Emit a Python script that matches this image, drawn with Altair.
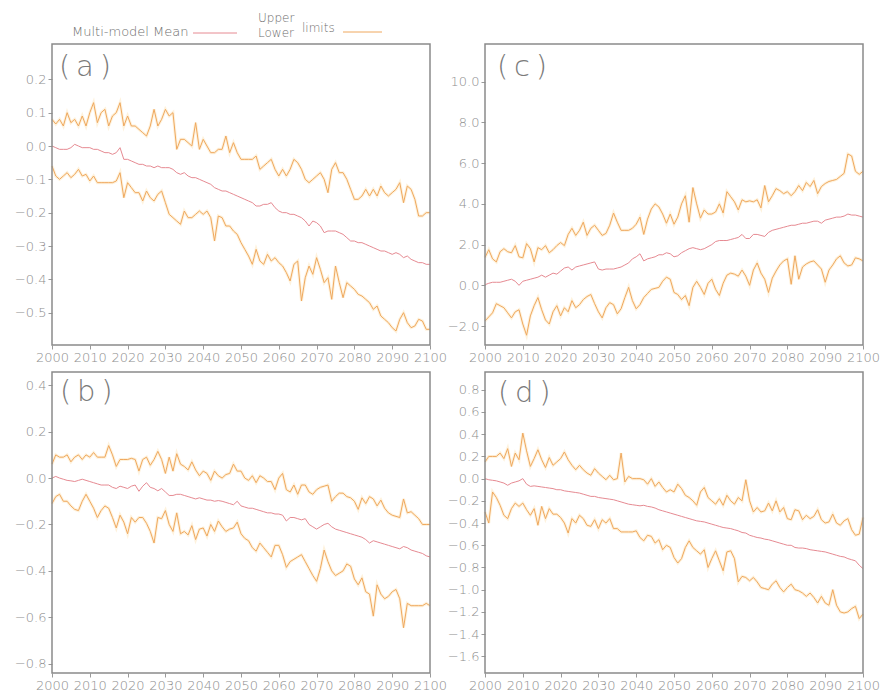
import altair as alt
import pandas as pd

years = list(range(2000, 2101))

a_upper = [0.08, 0.066, 0.08, 0.06, 0.10, 0.07, 0.08, 0.06, 0.09, 0.06,
           0.10, 0.13, 0.07, 0.10, 0.11, 0.06, 0.09, 0.10, 0.13, 0.06,
           0.09, 0.06, 0.06, 0.05, 0.04, 0.03, 0.06, 0.11, 0.06, 0.08,
           0.11, 0.09, 0.10, -0.01, 0.02, 0.02, 0.01, 0.0, 0.07, -0.01,
           0.02, 0.0, -0.02, -0.02, -0.01, -0.01, 0.03, -0.02, 0.01, -0.02,
           -0.04, -0.04, -0.04, -0.04, -0.03, -0.07, -0.06, -0.05, -0.04, -0.07,
           -0.09, -0.07, -0.09, -0.07, -0.04, -0.05, -0.07, -0.10, -0.11, -0.10,
           -0.09, -0.08, -0.10, -0.14, -0.07, -0.05, -0.08, -0.08, -0.10, -0.13,
           -0.16, -0.16, -0.15, -0.13, -0.15, -0.13, -0.15, -0.12, -0.14, -0.15,
           -0.14, -0.13, -0.11, -0.17, -0.12, -0.13, -0.16, -0.21, -0.21, -0.20,
           -0.20]
a_mean = [0.0, -0.005, -0.01, -0.01, -0.01, -0.005, 0.005, 0.0, -0.005, -0.005,
          -0.005, -0.01, -0.01, -0.015, -0.02, -0.02, -0.025, -0.02, -0.005, -0.04,
          -0.04, -0.045, -0.05, -0.055, -0.055, -0.06, -0.06, -0.065, -0.06, -0.065,
          -0.065, -0.065, -0.07, -0.08, -0.085, -0.08, -0.09, -0.095, -0.095, -0.10,
          -0.105, -0.11, -0.115, -0.125, -0.13, -0.135, -0.135, -0.14, -0.145, -0.15,
          -0.155, -0.16, -0.165, -0.17, -0.18, -0.18, -0.175, -0.175, -0.17, -0.185,
          -0.195, -0.20, -0.20, -0.205, -0.205, -0.21, -0.215, -0.225, -0.24, -0.225,
          -0.23, -0.24, -0.26, -0.255, -0.255, -0.255, -0.26, -0.265, -0.275, -0.285,
          -0.285, -0.29, -0.29, -0.295, -0.30, -0.305, -0.31, -0.315, -0.315, -0.32,
          -0.325, -0.32, -0.325, -0.335, -0.33, -0.34, -0.345, -0.35, -0.35, -0.355,
          -0.355]
a_lower = [-0.06, -0.09, -0.10, -0.09, -0.08, -0.095, -0.085, -0.07, -0.09, -0.085,
           -0.105, -0.09, -0.11, -0.11, -0.11, -0.11, -0.11, -0.105, -0.08, -0.155,
           -0.11, -0.125, -0.14, -0.14, -0.165, -0.135, -0.155, -0.165, -0.145, -0.135,
           -0.17, -0.205, -0.215, -0.225, -0.235, -0.195, -0.215, -0.215, -0.205, -0.195,
           -0.205, -0.195, -0.215, -0.285, -0.21, -0.215, -0.24, -0.24, -0.255, -0.265,
           -0.29, -0.31, -0.33, -0.355, -0.31, -0.345, -0.355, -0.325, -0.345, -0.335,
           -0.35, -0.36, -0.38, -0.405, -0.355, -0.345, -0.465, -0.395, -0.36, -0.385,
           -0.335, -0.37, -0.41, -0.395, -0.46, -0.36, -0.41, -0.455, -0.41, -0.42,
           -0.43, -0.445, -0.45, -0.46, -0.47, -0.49, -0.48, -0.51, -0.52, -0.53,
           -0.545, -0.555, -0.52, -0.50, -0.53, -0.545, -0.54, -0.52, -0.525, -0.55,
           -0.55]

b_upper = [0.06, 0.10, 0.09, 0.09, 0.10, 0.07, 0.09, 0.10, 0.08, 0.10,
           0.09, 0.11, 0.09, 0.09, 0.09, 0.14, 0.10, 0.05, 0.08, 0.08,
           0.08, 0.085, 0.08, 0.03, 0.08, 0.09, 0.055, 0.08, 0.115, 0.08,
           0.02, 0.09, 0.03, 0.105, 0.06, 0.05, 0.035, 0.07, 0.035, 0.01,
           0.03, 0.02, -0.01, 0.03, 0.01, 0.0, 0.015, 0.02, 0.06, 0.03,
           0.03, 0.0, -0.01, 0.01, -0.02, 0.01, 0.0, -0.015, -0.015, -0.05,
           0.0, 0.02, -0.05, -0.06, -0.03, -0.07, -0.03, -0.03, -0.06, -0.07,
           -0.05, -0.04, -0.035, -0.03, -0.10, -0.08, -0.065, -0.065, -0.08, -0.085,
           -0.10, -0.135, -0.085, -0.11, -0.08, -0.09, -0.12, -0.095, -0.13, -0.15,
           -0.16, -0.165, -0.17, -0.09, -0.15, -0.145, -0.16, -0.175, -0.20, -0.20,
           -0.20]
b_mean = [0.0, 0.007, 0.0, -0.005, -0.01, -0.012, -0.015, -0.01, -0.005, -0.01,
          -0.015, -0.02, -0.025, -0.03, -0.03, -0.03, -0.04, -0.045, -0.035, -0.04,
          -0.045, -0.035, -0.03, -0.057, -0.035, -0.02, -0.04, -0.045, -0.055, -0.045,
          -0.06, -0.075, -0.075, -0.07, -0.07, -0.075, -0.08, -0.085, -0.09, -0.085,
          -0.09, -0.095, -0.095, -0.10, -0.097, -0.10, -0.105, -0.11, -0.115, -0.10,
          -0.12, -0.125, -0.13, -0.13, -0.135, -0.14, -0.145, -0.15, -0.15, -0.155,
          -0.155, -0.16, -0.185, -0.17, -0.17, -0.175, -0.18, -0.175, -0.20, -0.21,
          -0.22, -0.21, -0.20, -0.195, -0.21, -0.22, -0.225, -0.23, -0.235, -0.24,
          -0.245, -0.25, -0.255, -0.265, -0.28, -0.27, -0.275, -0.28, -0.285, -0.29,
          -0.295, -0.30, -0.305, -0.295, -0.30, -0.31, -0.315, -0.32, -0.325, -0.335,
          -0.34]
b_lower = [-0.11, -0.08, -0.07, -0.10, -0.10, -0.12, -0.135, -0.14, -0.10, -0.07,
           -0.10, -0.13, -0.17, -0.14, -0.12, -0.13, -0.17, -0.215, -0.16, -0.19,
           -0.24, -0.17, -0.19, -0.17, -0.17, -0.195, -0.23, -0.28, -0.17, -0.175,
           -0.14, -0.20, -0.23, -0.15, -0.24, -0.23, -0.245, -0.205, -0.265, -0.22,
           -0.215, -0.25, -0.20, -0.23, -0.185, -0.21, -0.23, -0.22, -0.215, -0.19,
           -0.24, -0.26, -0.27, -0.30, -0.315, -0.28, -0.30, -0.32, -0.34, -0.29,
           -0.29, -0.33, -0.385, -0.36, -0.35, -0.34, -0.33, -0.36, -0.39, -0.42,
           -0.445, -0.39, -0.31, -0.36, -0.40, -0.42, -0.41, -0.40, -0.37, -0.38,
           -0.435, -0.46, -0.43, -0.49, -0.50, -0.595, -0.46, -0.50, -0.52, -0.51,
           -0.49, -0.48, -0.52, -0.645, -0.54, -0.55, -0.55, -0.55, -0.55, -0.54,
           -0.55]

c_upper = [1.37, 1.75, 1.3, 1.15, 1.65, 1.8, 1.65, 1.6, 1.95, 1.4,
           1.35, 2.05, 1.8, 1.15, 1.85, 1.75, 1.95, 1.6, 1.75, 1.95,
           2.1, 1.95, 2.5, 2.8, 2.45, 2.7, 3.1, 2.45, 2.8, 2.95,
           2.7, 2.45, 2.55, 2.95, 3.55, 3.1, 2.7, 2.7, 2.7, 2.8,
           3.0, 3.35, 2.5, 3.25, 3.75, 4.0, 3.85, 3.5, 3.05, 3.5,
           3.0, 3.35, 4.0, 4.4, 3.1, 4.8, 4.0, 3.3, 3.7, 3.5,
           3.5, 3.6, 4.0, 3.55, 4.6, 4.35, 4.1, 3.7, 4.2, 4.1,
           4.15, 4.1, 4.2, 3.8, 4.9, 4.1, 4.4, 4.75, 4.65, 4.5,
           4.6, 4.4, 4.6, 4.9, 4.65, 5.05, 4.85, 5.15, 4.5, 4.85,
           5.0, 5.1, 5.15, 5.2, 5.35, 5.5, 6.45, 6.35, 5.6, 5.45,
           5.6]
c_mean = [0.03, 0.1, 0.15, 0.15, 0.15, 0.2, 0.25, 0.3, 0.2, 0.0,
          0.2, 0.25, 0.3, 0.35, 0.4, 0.5, 0.4, 0.5, 0.6, 0.55,
          0.7, 0.85, 0.9, 0.75, 0.9, 0.95, 1.0, 1.05, 1.1, 1.15,
          0.8, 0.75, 0.8, 0.8, 0.8, 0.85, 0.9, 1.0, 1.1, 1.3,
          1.4, 1.55, 1.2, 1.3, 1.35, 1.4, 1.5, 1.5, 1.6, 1.55,
          1.4, 1.45, 1.6, 1.7, 1.8, 1.85, 1.8, 1.75, 1.8, 1.9,
          2.0, 2.15, 2.2, 2.2, 2.2, 2.25, 2.3, 2.35, 2.5, 2.3,
          2.3, 2.5, 2.5, 2.45, 2.4, 2.6, 2.7, 2.75, 2.8, 2.85,
          2.9, 2.95, 2.95, 3.0, 3.05, 3.05, 3.1, 3.15, 3.15, 3.05,
          3.2, 3.25, 3.3, 3.35, 3.35, 3.4, 3.5, 3.45, 3.45, 3.4,
          3.35]
c_lower = [-1.75, -1.55, -1.35, -0.9, -1.0, -1.1, -1.35, -1.6, -1.3, -1.2,
           -1.9, -2.45, -1.5, -1.0, -0.6, -1.2, -1.7, -1.9, -1.3, -1.0,
           -1.5, -1.1, -1.3, -0.75, -1.1, -0.95, -0.7, -0.55, -0.45, -0.9,
           -1.3, -1.6, -1.1, -0.85, -0.95, -1.4, -1.15, -0.6, -0.1, -0.75,
           -1.15, -0.95, -0.6, -0.4, -0.2, -0.15, -0.1, 0.2, 0.4, 0.3,
           -0.35, -0.45, -0.7, -0.5, -1.0, -0.1, 0.2, -0.1, -0.45, 0.1,
           0.3, -0.2, -0.5, 0.1, 0.5, 0.6, 0.55, 0.45, 0.75, 0.45,
           0.0, 0.75, 1.1, 0.6, 0.3, -0.35, 0.35, 0.7, 1.0, 1.2,
           1.3, 0.05, 1.45, 0.3, 0.9, 1.05, 1.15, 1.2, 1.0, 0.8,
           0.15, 0.75, 1.0, 1.3, 1.45, 1.1, 0.95, 1.0, 1.35, 1.3,
           1.2]

d_upper = [0.15, 0.2, 0.2, 0.2, 0.23, 0.18, 0.27, 0.11, 0.23, 0.17,
           0.41, 0.25, 0.11, 0.18, 0.26, 0.17, 0.10, 0.19, 0.12, 0.15,
           0.18, 0.24, 0.17, 0.12, 0.08, 0.12, 0.08, 0.05, 0.03, 0.09,
           0.05, 0.02, -0.01, 0.03, -0.01, 0.0, 0.23, -0.03, 0.02, 0.0,
           0.0, 0.0, -0.01, -0.05, 0.0, -0.07, -0.03, -0.08, -0.12, -0.10,
           -0.12, -0.05, -0.09, -0.15, -0.17, -0.20, -0.24, -0.12, -0.08, -0.17,
           -0.20, -0.23, -0.18, -0.24, -0.15, -0.20, -0.23, -0.17, -0.20, -0.01,
           -0.20, -0.30, -0.26, -0.30, -0.29, -0.22, -0.29, -0.20, -0.30, -0.26,
           -0.36, -0.37, -0.28, -0.29, -0.37, -0.33, -0.36, -0.34, -0.28, -0.37,
           -0.40, -0.39, -0.32, -0.40, -0.42, -0.38, -0.36, -0.46, -0.51, -0.50,
           -0.35]
d_mean = [0.0, -0.01, -0.015, -0.02, -0.03, -0.04, -0.06, -0.04, -0.03, -0.02,
          0.0, -0.05, -0.07, -0.065, -0.07, -0.075, -0.08, -0.085, -0.09, -0.10,
          -0.10, -0.11, -0.115, -0.12, -0.125, -0.13, -0.14, -0.15, -0.16, -0.16,
          -0.17, -0.175, -0.18, -0.185, -0.19, -0.20, -0.21, -0.22, -0.23, -0.235,
          -0.24, -0.245, -0.24, -0.25, -0.255, -0.265, -0.28, -0.29, -0.30, -0.31,
          -0.32, -0.33, -0.34, -0.35, -0.36, -0.37, -0.38, -0.385, -0.39, -0.40,
          -0.41, -0.42, -0.43, -0.44, -0.445, -0.45, -0.46, -0.47, -0.485, -0.49,
          -0.51, -0.52, -0.53, -0.535, -0.545, -0.55, -0.56, -0.57, -0.58, -0.59,
          -0.60, -0.60, -0.62, -0.625, -0.625, -0.63, -0.64, -0.645, -0.65, -0.655,
          -0.66, -0.67, -0.68, -0.69, -0.70, -0.705, -0.72, -0.73, -0.74, -0.78,
          -0.81]
d_lower = [-0.30, -0.40, -0.12, -0.17, -0.24, -0.33, -0.36, -0.27, -0.22, -0.25,
           -0.22, -0.28, -0.33, -0.27, -0.42, -0.25, -0.36, -0.27, -0.32, -0.32,
           -0.35, -0.40, -0.49, -0.36, -0.40, -0.33, -0.36, -0.42, -0.43, -0.37,
           -0.45, -0.37, -0.40, -0.36, -0.45, -0.45, -0.48, -0.48, -0.48, -0.48,
           -0.47, -0.53, -0.56, -0.51, -0.52, -0.58, -0.55, -0.64, -0.60, -0.62,
           -0.71, -0.76, -0.72, -0.62, -0.56, -0.62, -0.65, -0.68, -0.64, -0.80,
           -0.72, -0.65, -0.74, -0.83, -0.66, -0.65, -0.72, -0.93, -0.88, -0.89,
           -0.92, -0.89, -0.93, -0.98, -0.99, -1.00, -0.95, -0.92, -0.98, -1.02,
           -0.98, -0.95, -1.00, -1.01, -1.03, -1.06, -1.03, -1.07, -1.12, -1.06,
           -1.12, -1.14, -1.00, -1.14, -1.20, -1.21, -1.20, -1.17, -1.15, -1.26,
           -1.22]

a_ticks = [-0.5, -0.4, -0.3, -0.2, -0.1, 0.0, 0.1, 0.2]
b_ticks = [-0.8, -0.6, -0.4, -0.2, 0.0, 0.2, 0.4]
c_ticks = [-2.0, 0.0, 2.0, 4.0, 6.0, 8.0, 10.0]
d_ticks = [-1.6, -1.4, -1.2, -1.0, -0.8, -0.6, -0.4, -0.2, 0.0, 0.2, 0.4, 0.6, 0.8]
x_ticks = list(range(2000, 2101, 10))

ORANGE = "#efa85e"
HALO = "#fde9c6"
RED = "#e68a92"
GREY_TXT = "#6e6e6e"
FONT = "DejaVu Sans"

W, H = 378, 301


def panel(label, upper, mean, lower, domain, ticks, lab_x, lab_y, legend=False):
    n = len(years)
    df = pd.DataFrame({
        "year": years * 3,
        "value": upper + mean + lower,
        "series": ["Upper"] * n + ["Mean"] * n + ["Lower"] * n,
    })
    x = alt.X("year:Q", scale=alt.Scale(domain=[2000, 2100], nice=False, zero=False),
              axis=alt.Axis(values=x_ticks, format="d", title=None,
                            labelOverlap=False, labelFlush=False))
    y = alt.Y("value:Q", scale=alt.Scale(domain=domain, nice=False, zero=False),
              axis=alt.Axis(values=ticks, format=".1f", title=None,
                            labelOverlap=False, labelFlush=False))
    base = alt.Chart(df)
    halo = base.transform_filter("datum.series != 'Mean'").mark_line(
        color=HALO, strokeWidth=3.0, opacity=0.6).encode(x=x, y=y, detail="series:N")
    lims = base.transform_filter("datum.series != 'Mean'").mark_line(
        color=ORANGE, strokeWidth=1.0).encode(x=x, y=y, detail="series:N")
    mline = base.transform_filter("datum.series == 'Mean'").mark_line(
        color=RED, strokeWidth=1.0).encode(x=x, y=y)
    one = pd.DataFrame({"k": [0]})
    frame = alt.Chart(one).mark_rect(fill="transparent", stroke="#8a8a8a", strokeWidth=1.5).encode(
        x=alt.value(0), x2=alt.value(W), y=alt.value(0), y2=alt.value(H))
    lab = alt.Chart(pd.DataFrame({"t": [label]})).mark_text(
        align="left", baseline="middle", font=FONT, fontSize=29, fontWeight=200,
        color="#7a7a7a").encode(x=alt.value(lab_x), y=alt.value(lab_y), text="t:N")
    layers = [halo, lims, mline, frame, lab]
    if legend:
        leg_txt = pd.DataFrame({
            "t": ["Multi-model Mean", "Upper", "Lower", "limits"],
            "px": [20, 206, 206, 250],
            "py": [-12, -26, -11, -16],
            "fs": [13, 12, 12, 12],
        })
        for _, r in leg_txt.iterrows():
            layers.append(alt.Chart(pd.DataFrame({"t": [r.t]})).mark_text(
                align="left", baseline="middle", font=FONT, fontSize=int(r.fs), fontWeight=300,
                color=GREY_TXT).encode(x=alt.value(int(r.px)), y=alt.value(int(r.py)), text="t:N"))
        layers.append(alt.Chart(one).mark_rule(color=RED, strokeWidth=1).encode(
            x=alt.value(141), x2=alt.value(185), y=alt.value(-11)))
        layers.append(alt.Chart(one).mark_rule(color=ORANGE, strokeWidth=1).encode(
            x=alt.value(291), x2=alt.value(330), y=alt.value(-12)))
    return alt.layer(*layers).properties(width=W, height=H)


pa = panel("(\u2009a\u2009)", a_upper, a_mean, a_lower, [-0.597, 0.306], a_ticks, 7, 23, legend=True)
pc = panel("(\u2009c\u2009)", c_upper, c_mean, c_lower, [-2.93, 11.85], c_ticks, 12, 23)
pb = panel("(\u2009b\u2009)", b_upper, b_mean, b_lower, [-0.84, 0.457], b_ticks, 8, 20)
pd_ = panel("(\u2009d\u2009)", d_upper, d_mean, d_lower, [-1.75, 0.96], d_ticks, 13, 21)

top = alt.hconcat(pa, pc, spacing=0)
bottom = alt.hconcat(pb, pd_, spacing=0)

chart = alt.vconcat(top, bottom, spacing=7).properties(
    padding={"left": 14, "top": 12, "right": 0, "bottom": 0}, background="white"
).configure_view(stroke="transparent", strokeWidth=0).configure_axis(
    grid=False, domain=False, tickColor="#9a9a9a", tickSize=4, labelPadding=2,
    labelColor="#8e8e8e", labelFont=FONT, labelFontSize=13, labelFontWeight=300
)

chart.save("out.html", embed_options={"renderer": "svg", "actions": False})
